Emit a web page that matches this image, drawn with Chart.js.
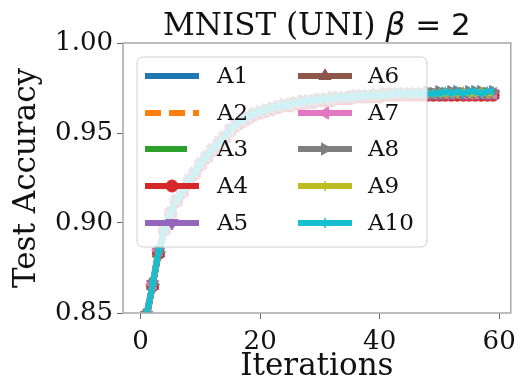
<!DOCTYPE html>
<html lang="en">
<head>
  <meta charset="utf-8">
  <title>MNIST (UNI) beta = 2</title>
  <script src="https://cdn.jsdelivr.net/npm/chart.js@4/dist/chart.umd.min.js"></script>
  <style>
    body { margin:0; background:#fff; }
    canvas { display:block; }
  </style>
</head>
<body>
  <canvas id="chart" width="524" height="382"></canvas>
  <script>
    // data
    const iterations = [0,1,2,3,4,5,6,7,8,9,10,11,12,13,14,15,16,17,18,19,20,21,22,23,24,25,26,27,28,29,
      30,31,32,33,34,35,36,37,38,39,40,41,42,43,44,45,46,47,48,49,50,51,52,53,54,55,56,57,58,59];
    const seriesNames = ['A1','A2','A3','A4','A5','A6','A7','A8','A9','A10'];
    const xTicks = [0,20,40,60];
    const yTicks = [0.85,0.90,0.95,1.00];

    const a1 = [0.748,0.847,0.865,0.883,0.896,0.905,0.912,0.918,0.923,0.928,0.932,0.936,0.940,0.944,0.947,0.951,0.954,0.957,0.959,0.960,
      0.962,0.963,0.964,0.964,0.965,0.966,0.966,0.967,0.967,0.968,0.968,0.969,0.969,0.969,0.970,0.970,0.970,0.970,0.971,0.971,
      0.971,0.971,0.971,0.972,0.972,0.972,0.972,0.972,0.972,0.972,0.972,0.972,0.972,0.973,0.972,0.972,0.973,0.972,0.972,0.973];
    const a2 = [0.755,0.850,0.867,0.885,0.897,0.907,0.914,0.919,0.924,0.929,0.933,0.938,0.941,0.945,0.948,0.952,0.955,0.958,0.960,0.961,
      0.962,0.963,0.964,0.965,0.966,0.966,0.967,0.968,0.968,0.968,0.969,0.969,0.970,0.970,0.970,0.971,0.971,0.971,0.971,0.971,
      0.972,0.972,0.972,0.972,0.972,0.972,0.973,0.972,0.973,0.973,0.973,0.973,0.972,0.973,0.973,0.973,0.973,0.973,0.973,0.973];
    const a3 = [0.750,0.848,0.866,0.884,0.896,0.906,0.913,0.918,0.923,0.927,0.932,0.937,0.940,0.944,0.948,0.951,0.954,0.957,0.959,0.961,
      0.962,0.963,0.964,0.965,0.965,0.966,0.967,0.967,0.968,0.968,0.968,0.969,0.969,0.970,0.970,0.970,0.970,0.971,0.971,0.971,
      0.971,0.971,0.972,0.972,0.972,0.972,0.972,0.972,0.972,0.972,0.972,0.972,0.973,0.972,0.972,0.973,0.972,0.972,0.973,0.972];
    const a4 = [0.751,0.848,0.865,0.883,0.896,0.905,0.912,0.917,0.922,0.927,0.932,0.936,0.940,0.943,0.947,0.951,0.954,0.956,0.958,0.960,
      0.961,0.962,0.963,0.964,0.965,0.965,0.966,0.966,0.967,0.967,0.968,0.968,0.968,0.969,0.969,0.969,0.970,0.970,0.970,0.970,
      0.970,0.971,0.971,0.971,0.971,0.971,0.971,0.971,0.971,0.971,0.971,0.971,0.971,0.971,0.971,0.971,0.971,0.971,0.971,0.971];
    const a5 = [0.753,0.849,0.866,0.884,0.897,0.906,0.913,0.918,0.923,0.928,0.933,0.937,0.941,0.944,0.948,0.952,0.955,0.957,0.959,0.961,
      0.962,0.963,0.964,0.965,0.966,0.966,0.967,0.967,0.968,0.968,0.969,0.969,0.969,0.970,0.970,0.970,0.971,0.971,0.971,0.971,
      0.971,0.972,0.972,0.972,0.972,0.972,0.972,0.972,0.972,0.972,0.972,0.972,0.972,0.973,0.972,0.972,0.972,0.973,0.972,0.972];
    const a6 = [0.749,0.847,0.865,0.883,0.896,0.905,0.912,0.917,0.922,0.927,0.932,0.936,0.940,0.943,0.947,0.951,0.954,0.956,0.958,0.960,
      0.961,0.962,0.963,0.964,0.965,0.966,0.966,0.967,0.967,0.968,0.968,0.968,0.969,0.969,0.969,0.970,0.970,0.970,0.970,0.971,
      0.971,0.971,0.971,0.971,0.971,0.971,0.971,0.971,0.971,0.971,0.971,0.971,0.971,0.971,0.971,0.971,0.971,0.971,0.971,0.971];
    const a7 = [0.750,0.848,0.866,0.885,0.897,0.906,0.913,0.918,0.923,0.928,0.933,0.937,0.941,0.944,0.948,0.952,0.955,0.957,0.959,0.961,
      0.962,0.963,0.964,0.965,0.966,0.966,0.967,0.967,0.968,0.968,0.969,0.969,0.969,0.970,0.970,0.970,0.971,0.971,0.971,0.971,
      0.972,0.972,0.972,0.972,0.972,0.972,0.972,0.972,0.972,0.972,0.972,0.972,0.972,0.972,0.972,0.972,0.972,0.972,0.972,0.972];
    const a8 = [0.752,0.849,0.866,0.884,0.897,0.906,0.913,0.918,0.924,0.928,0.933,0.937,0.941,0.945,0.948,0.952,0.955,0.957,0.959,0.961,
      0.962,0.963,0.964,0.965,0.966,0.966,0.967,0.968,0.968,0.968,0.969,0.969,0.970,0.970,0.970,0.970,0.971,0.971,0.971,0.971,
      0.971,0.972,0.972,0.972,0.972,0.972,0.972,0.972,0.973,0.972,0.973,0.972,0.973,0.973,0.972,0.973,0.973,0.973,0.972,0.973];
    const a9 = [0.751,0.848,0.866,0.884,0.897,0.906,0.913,0.918,0.923,0.928,0.933,0.937,0.941,0.944,0.948,0.951,0.955,0.957,0.959,0.961,
      0.962,0.963,0.964,0.965,0.965,0.966,0.967,0.967,0.968,0.968,0.969,0.969,0.969,0.970,0.970,0.970,0.970,0.971,0.971,0.971,
      0.971,0.972,0.972,0.972,0.972,0.972,0.972,0.972,0.972,0.972,0.972,0.972,0.972,0.972,0.973,0.972,0.972,0.973,0.972,0.972];
    const a10 = [0.752,0.849,0.866,0.884,0.897,0.906,0.913,0.918,0.923,0.928,0.933,0.937,0.941,0.944,0.948,0.952,0.955,0.957,0.959,0.961,
      0.962,0.963,0.964,0.965,0.965,0.966,0.967,0.967,0.968,0.968,0.969,0.969,0.969,0.970,0.970,0.970,0.970,0.971,0.971,0.971,
      0.971,0.971,0.972,0.972,0.972,0.972,0.972,0.972,0.972,0.972,0.972,0.973,0.972,0.973,0.972,0.973,0.973,0.972,0.973,0.973];
    const seriesValues = [a1,a2,a3,a4,a5,a6,a7,a8,a9,a10];

    // matplotlib tab10 + marker per series
    const styles = [
      {color:'#1f77b4', point:false},
      {color:'#ff7f0e', point:false, dash:[16,8]},
      {color:'#2ca02c', point:false, dash:[42,16]},
      {color:'#d62728', point:'circle', r:6, rot:0},
      {color:'#9467bd', point:'triangle', r:7, rot:180},
      {color:'#8c564b', point:'triangle', r:7, rot:0},
      {color:'#e377c2', point:'triangle', r:7, rot:-90},
      {color:'#7f7f7f', point:'triangle', r:7, rot:90},
      {color:'#bcbd22', point:'line', r:5, rot:90, thin:true},
      {color:'#17becf', point:'line', r:5, rot:90, thin:true}
    ];

    const SERIF = '"DejaVu Serif", serif';
    const SANS = '"DejaVu Sans", sans-serif';

    const datasets = seriesNames.map((name,i)=>{
      const s = styles[i];
      return {
        label:name,
        order:seriesNames.length-1-i,   // later series drawn on top, like matplotlib
        data:iterations.map((x,j)=>({x:x, y:seriesValues[i][j]})),
        borderColor:s.color, backgroundColor:s.color,
        borderWidth:6, borderDash:s.dash||[],
        pointStyle:s.point||'circle', pointRadius:s.point?s.r:0,
        pointRotation:s.rot||0, pointBorderWidth:s.thin?1.5:1,
        pointBorderColor:s.color, pointBackgroundColor:s.color,
        tension:0
      };
    });

    // title with italic beta
    const titlePlugin = {
      id:'mplTitle',
      afterDraw(chart){
        const {ctx, chartArea} = chart;
        const parts = [
          {t:'MNIST (UNI) ', f:'31px '+SERIF},
          {t:'\u03B2', f:'italic 31px '+SANS},
          {t:' = 2', f:'31px '+SANS}
        ];
        ctx.save();
        let w = 0;
        parts.forEach(p=>{ ctx.font=p.f; p.w=ctx.measureText(p.t).width; w+=p.w; });
        let x = (chartArea.left+chartArea.right)/2 - w/2;
        ctx.fillStyle='#111'; ctx.textBaseline='alphabetic';
        parts.forEach(p=>{ ctx.font=p.f; ctx.fillText(p.t,x,35); x+=p.w; });
        ctx.restore();
      }
    };

    // axes frame + legend drawn inside the plot
    const framePlugin = {
      id:'frameLegend',
      afterDatasetsDraw(chart){
        const {ctx, chartArea:a} = chart;
        ctx.save();
        ctx.strokeStyle='#a8a8a8'; ctx.lineWidth=1.5;
        ctx.strokeRect(a.left, a.top, a.right-a.left, a.bottom-a.top);

        // legend box
        const bx=137, by=57, bw=290, bh=190, rad=6;
        ctx.beginPath();
        ctx.moveTo(bx+rad,by); ctx.arcTo(bx+bw,by,bx+bw,by+bh,rad); ctx.arcTo(bx+bw,by+bh,bx,by+bh,rad);
        ctx.arcTo(bx,by+bh,bx,by,rad); ctx.arcTo(bx,by,bx+bw,by,rad); ctx.closePath();
        ctx.fillStyle='rgba(255,255,255,0.8)'; ctx.fill();
        ctx.strokeStyle='#d0d0d0'; ctx.lineWidth=1; ctx.stroke();

        const rowY=[76,113,149,186,223];
        const cols=[{x0:145,x1:199,tx:217},{x0:298,x1:352,tx:368}];
        chart.data.datasets.forEach((ds,i)=>{
          const c=cols[Math.floor(i/5)], y=rowY[i%5], s=styles[i];
          ctx.save();
          ctx.strokeStyle=s.color; ctx.lineWidth=6; ctx.setLineDash(s.dash||[]);
          ctx.beginPath(); ctx.moveTo(c.x0,y); ctx.lineTo(i===2?187:c.x1,y); ctx.stroke();
          ctx.restore();
          if(s.point && Chart.helpers && Chart.helpers.drawPoint){
            ctx.save();
            ctx.fillStyle=s.color; ctx.strokeStyle=s.color; ctx.lineWidth=s.thin?1.5:1;
            Chart.helpers.drawPoint(ctx,{pointStyle:s.point, radius:s.r, rotation:s.rot, borderWidth:s.thin?1.5:1}, (c.x0+c.x1)/2, y);
            ctx.restore();
          }
          ctx.fillStyle='#111'; ctx.font='23px '+SERIF; ctx.textBaseline='middle';
          ctx.fillText(ds.label, c.tx, y+1);
        });
        ctx.restore();
      }
    };

    new Chart(document.getElementById('chart'), {
      type:'line',
      data:{datasets:datasets},
      plugins:[titlePlugin, framePlugin],
      options:{
        responsive:false, animation:false, devicePixelRatio:1,
        layout:{padding:{top:43, right:11, left:0, bottom:0}},
        plugins:{legend:{display:false}, tooltip:{enabled:false}, title:{display:false}},
        scales:{
          x:{
            type:'linear', min:-2.95, max:61.95,
            afterFit(s){ s.height=69; },
            afterBuildTicks(s){ s.ticks = xTicks.map(v=>({value:v})); },
            ticks:{font:{family:SERIF, size:26}, color:'#111', padding:8, maxRotation:0},
            grid:{drawOnChartArea:false, drawTicks:true, tickLength:6, color:'#666'},
            border:{display:false},
            title:{display:true, text:'Iterations', font:{family:SERIF, size:31, lineHeight:1.0}, color:'#111', padding:0}
          },
          y:{
            min:0.85, max:1.0,
            afterFit(s){ s.width=123; },
            afterBuildTicks(s){ s.ticks = yTicks.map(v=>({value:v})); },
            ticks:{font:{family:SERIF, size:26}, color:'#111', padding:4, callback:v=>v.toFixed(2)},
            grid:{drawOnChartArea:false, drawTicks:true, tickLength:6, color:'#666'},
            border:{display:false},
            title:{display:true, text:'Test Accuracy', font:{family:SERIF, size:31}, color:'#111', padding:{top:8, bottom:0}}
          }
        }
      }
    });
  </script>
</body>
</html>
